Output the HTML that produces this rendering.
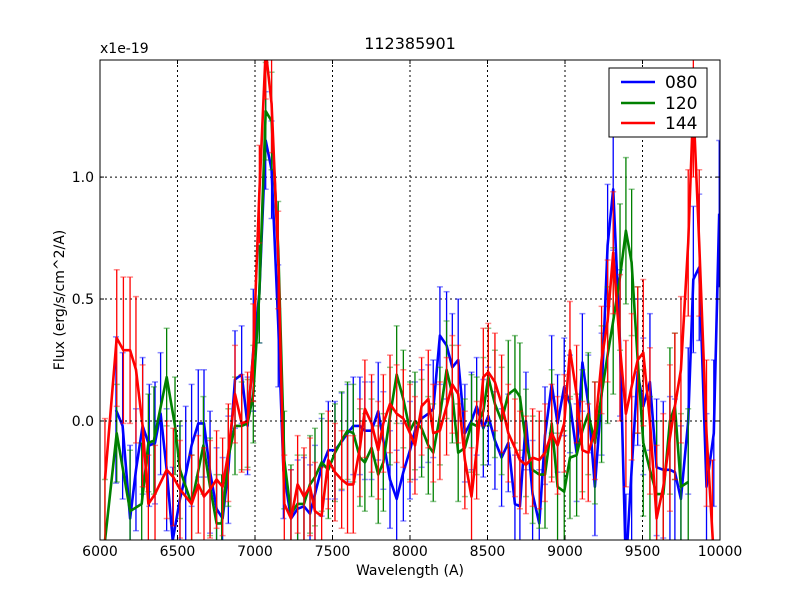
<!DOCTYPE html>
<html><head><meta charset="utf-8">
<style>
html,body{margin:0;padding:0;background:#fff;width:800px;height:600px;overflow:hidden;}
svg{display:block;}
svg text{font-family:"DejaVu Sans","Liberation Sans",sans-serif;font-size:14px;fill:#000;}
</style></head>
<body>
<svg id="chart" width="800" height="600" viewBox="0 0 800 600" xmlns="http://www.w3.org/2000/svg">
<rect x="0" y="0" width="800" height="600" fill="#fff"/>
<defs><clipPath id="clip"><rect x="100" y="60" width="620" height="480"/></clipPath></defs>
<g id="grid"></g>
<g id="series" clip-path="url(#clip)"></g>
<rect x="100" y="60" width="620" height="480" fill="none" stroke="#000" stroke-width="1"/>
<g id="ticks"></g>
<text x="410" y="49" text-anchor="middle" style="font-size:16px">112385901</text>
<text x="100" y="53">x1e-19</text>
<text x="410" y="575" text-anchor="middle">Wavelength (A)</text>
<text x="64" y="300" text-anchor="middle" transform="rotate(-90 64 300)">Flux (erg/s/cm^2/A)</text>
<g>
<rect x="609" y="68" width="98" height="69" fill="#fff" stroke="#000" stroke-width="1"/>
<line x1="621" y1="82" x2="655" y2="82" stroke="#0000ff" stroke-width="2.5"/>
<text x="665" y="88" style="font-size:17px">080</text>
<line x1="621" y1="103" x2="655" y2="103" stroke="#008000" stroke-width="2.5"/>
<text x="665" y="109" style="font-size:17px">120</text>
<line x1="621" y1="123" x2="655" y2="123" stroke="#ff0000" stroke-width="2.5"/>
<text x="665" y="129" style="font-size:17px">144</text>
</g>
</svg>
<script>
const xTicks=[6000,6500,7000,7500,8000,8500,9000,9500,10000];
const yTicks=[0.0,0.5,1.0];
const yTickLabels=["0.0","0.5","1.0"];
const blueWl=[6103,6146,6194,6232,6275,6318,6355,6391,6430,6469,6516,6553,6591,6634,6671,6710,6752,6791,6828,6871,6914,6952,6989,7028,7069,7107,7150,7183,7232,7275,7316,7355,7387,7430,7473,7516,7559,7597,7634,7677,7709,7752,7795,7828,7871,7914,7957,8000,8032,8075,8118,8150,8193,8236,8273,8311,8354,8397,8430,8473,8505,8548,8591,8634,8677,8709,8748,8791,8834,8871,8914,8952,8995,9032,9075,9112,9150,9193,9236,9275,9311,9355,9393,9430,9469,9505,9548,9591,9634,9677,9709,9748,9795,9828,9866,9913,9960,9995];
const blueVal=[0.045,-0.02,-0.40,-0.20,-0.02,-0.10,-0.09,0.03,-0.20,-0.49,-0.32,-0.22,-0.10,-0.01,-0.01,-0.21,-0.36,-0.40,-0.20,0.17,0.19,-0.02,0.29,0.52,1.15,1.03,0.39,-0.20,-0.40,-0.36,-0.35,-0.38,-0.30,-0.19,-0.12,-0.12,-0.085,-0.05,-0.02,-0.02,-0.04,-0.04,0.04,-0.08,-0.24,-0.32,-0.21,-0.12,-0.04,0.01,0.03,0.05,0.35,0.31,0.22,0.25,-0.05,0.0,0.06,-0.03,0.02,-0.08,-0.15,-0.09,-0.34,-0.35,0.0,-0.30,-0.42,-0.06,0.15,-0.01,0.14,0.07,-0.13,0.24,0.07,-0.27,0.11,0.72,0.95,0.32,-0.6,-0.20,0.20,0.06,0.16,-0.19,-0.20,-0.20,-0.21,-0.32,0.0,0.58,0.63,-0.27,-0.05,0.85];
const blueErr=[0.3,0.3,0.3,0.25,0.28,0.25,0.25,0.25,0.25,0.3,0.3,0.28,0.25,0.22,0.22,0.25,0.25,0.25,0.22,0.2,0.2,0.2,0.25,0.2,0.2,0.2,0.25,0.2,0.2,0.2,0.2,0.2,0.2,0.2,0.2,0.2,0.2,0.2,0.2,0.2,0.2,0.2,0.2,0.2,0.2,0.2,0.2,0.2,0.2,0.2,0.2,0.2,0.2,0.22,0.22,0.25,0.2,0.2,0.2,0.2,0.2,0.2,0.2,0.2,0.2,0.2,0.2,0.22,0.22,0.2,0.2,0.2,0.2,0.2,0.2,0.2,0.2,0.2,0.25,0.25,0.25,0.3,0.3,0.3,0.3,0.28,0.28,0.28,0.28,0.3,0.3,0.3,0.3,0.3,0.3,0.3,0.3,0.3];
const greenWl=[6032,6108,6194,6269,6312,6348,6430,6484,6516,6591,6667,6710,6752,6785,6828,6871,6914,6952,6989,7028,7069,7107,7150,7189,7232,7275,7316,7355,7387,7430,7473,7516,7559,7597,7634,7677,7709,7752,7795,7828,7871,7914,7957,8000,8032,8075,8118,8150,8193,8236,8273,8311,8354,8397,8430,8473,8505,8548,8591,8634,8677,8709,8748,8791,8834,8871,8914,8952,8995,9032,9075,9112,9150,9193,9236,9275,9311,9355,9393,9430,9469,9505,9548,9591,9634,9677,9709,9748,9795];
const greenVal=[-0.49,-0.05,-0.37,-0.34,-0.09,-0.08,0.18,-0.02,-0.20,-0.34,-0.10,-0.27,-0.42,-0.42,-0.15,-0.02,-0.02,-0.01,0.11,0.52,1.27,1.23,0.70,-0.16,-0.38,-0.34,-0.34,-0.26,-0.23,-0.17,-0.20,-0.13,-0.08,-0.04,-0.05,-0.15,-0.17,-0.11,-0.22,-0.17,0.02,0.19,0.09,-0.04,0.0,-0.03,-0.10,-0.13,0.02,0.21,0.11,-0.13,-0.11,-0.01,-0.02,0.04,0.18,0.07,0.0,0.11,0.13,0.10,-0.09,-0.20,-0.22,-0.22,-0.01,-0.27,-0.29,-0.15,-0.14,-0.04,0.03,-0.09,0.11,0.27,0.41,0.59,0.78,0.65,0.25,-0.09,-0.20,-0.30,-0.30,0.0,0.06,-0.27,-0.25];
const greenErr=[0.25,0.2,0.25,0.25,0.2,0.22,0.2,0.2,0.2,0.2,0.2,0.2,0.2,0.2,0.2,0.2,0.18,0.18,0.2,0.2,0.2,0.2,0.2,0.2,0.2,0.2,0.2,0.2,0.2,0.2,0.2,0.2,0.2,0.2,0.2,0.2,0.2,0.2,0.2,0.2,0.2,0.2,0.2,0.2,0.2,0.2,0.2,0.2,0.2,0.2,0.2,0.2,0.2,0.2,0.2,0.22,0.2,0.22,0.22,0.22,0.22,0.22,0.22,0.22,0.22,0.22,0.22,0.22,0.25,0.25,0.25,0.25,0.25,0.25,0.28,0.28,0.3,0.3,0.3,0.3,0.3,0.3,0.3,0.3,0.3,0.3,0.3,0.3,0.3];
const redWl=[6032,6108,6151,6194,6232,6275,6312,6355,6430,6473,6516,6591,6634,6671,6710,6752,6791,6828,6871,6914,6952,6989,7028,7069,7107,7150,7189,7232,7275,7316,7355,7387,7430,7473,7516,7559,7597,7634,7677,7709,7752,7795,7828,7871,7914,7957,8000,8032,8075,8118,8150,8193,8236,8273,8311,8354,8397,8430,8473,8505,8548,8591,8634,8677,8709,8748,8791,8834,8871,8914,8952,8995,9032,9075,9112,9150,9193,9236,9275,9311,9355,9393,9430,9469,9505,9548,9591,9634,9677,9709,9748,9795,9828,9866,9913,9951,9990];
const redVal=[-0.24,0.34,0.29,0.29,0.21,-0.02,-0.34,-0.30,-0.20,-0.23,-0.28,-0.34,-0.26,-0.31,-0.28,-0.24,-0.27,-0.13,0.11,-0.01,0.0,0.28,0.93,1.52,1.30,0.66,-0.34,-0.40,-0.26,-0.31,-0.27,-0.37,-0.39,-0.16,-0.21,-0.24,-0.26,-0.26,-0.11,0.05,-0.01,-0.12,-0.01,0.07,0.03,0.01,-0.05,-0.10,0.06,0.09,-0.05,-0.04,0.06,0.15,0.11,-0.16,-0.31,-0.12,0.18,0.20,0.16,0.07,-0.05,-0.11,-0.16,-0.18,-0.15,-0.16,-0.13,-0.05,-0.10,-0.01,0.29,0.11,-0.12,-0.13,-0.04,0.25,0.41,0.69,0.30,0.03,0.14,0.25,0.28,0.0,-0.40,-0.27,-0.07,0.06,0.21,0.73,1.30,0.73,-0.05,-0.46,-0.9];
const redErr=[0.25,0.28,0.3,0.3,0.3,0.25,0.2,0.2,0.2,0.2,0.2,0.2,0.2,0.2,0.2,0.2,0.2,0.2,0.2,0.2,0.2,0.2,0.2,0.2,0.2,0.2,0.2,0.2,0.2,0.2,0.2,0.2,0.2,0.2,0.2,0.2,0.2,0.2,0.2,0.2,0.2,0.2,0.2,0.2,0.2,0.2,0.2,0.2,0.2,0.2,0.2,0.2,0.2,0.2,0.2,0.2,0.2,0.2,0.2,0.2,0.2,0.2,0.2,0.2,0.2,0.2,0.2,0.2,0.2,0.2,0.2,0.2,0.2,0.2,0.2,0.2,0.2,0.22,0.25,0.25,0.3,0.3,0.3,0.3,0.3,0.3,0.3,0.3,0.3,0.3,0.3,0.3,0.3,0.3,0.3,0.3,0.3];

const X0=100,X1=720,Y0=540,Y1=60,XMIN=6000,XMAX=10000,YMIN=-0.488,YMAX=1.48;
function xs(v){return X0+(v-XMIN)/(XMAX-XMIN)*(X1-X0);}
function ys(v){return Y0-(v-YMIN)/(YMAX-YMIN)*(Y0-Y1);}
const NS="http://www.w3.org/2000/svg";
function mk(tag,attrs,parent){const e=document.createElementNS(NS,tag);for(const k in attrs)e.setAttribute(k,attrs[k]);parent.appendChild(e);return e;}
const grid=document.getElementById('grid'),ticks=document.getElementById('ticks'),ser=document.getElementById('series');
xTicks.forEach(function(t){
  const x=xs(t);
  if(t>XMIN&&t<XMAX){const g=mk('line',{x1:x,y1:Y1,x2:x,y2:Y0,stroke:'#000','stroke-dasharray':'2,3','stroke-width':1},grid);
  
  }
  const a=mk('line',{x1:x,y1:Y0,x2:x,y2:Y0-4,stroke:'#000'},ticks);
  
  
  const b=mk('line',{x1:x,y1:Y1,x2:x,y2:Y1+4,stroke:'#000'},ticks);
  
  
  const l=mk('text',{x:x,y:556,'text-anchor':'middle'},ticks);l.textContent=String(t);
  
  
});
yTicks.forEach(function(t,i){
  const y=ys(t);
  const g=mk('line',{x1:X0,y1:y,x2:X1,y2:y,stroke:'#000','stroke-dasharray':'2,3','stroke-width':1},grid);
  
  
  const a=mk('line',{x1:X0,y1:y,x2:X0+4,y2:y,stroke:'#000'},ticks);
  
  
  const b=mk('line',{x1:X1,y1:y,x2:X1-4,y2:y,stroke:'#000'},ticks);
  
  
  const l=mk('text',{x:X0-6,y:y+5,'text-anchor':'end'},ticks);l.textContent=yTickLabels[i];
  
  
});
function drawSeries(wl,val,err,color,name){
  const g=mk('g',{},ser);
  
  
  for(let i=0;i<wl.length;i++){
    const e=err[i]!==undefined?err[i]:0.2;
    const x=xs(wl[i]),yt=ys(val[i]+e),yb=ys(val[i]-e);
    const b=mk('line',{x1:x,y1:yt,x2:x,y2:yb,stroke:color,'stroke-width':1.3},g);
    
    
    const c1=mk('line',{x1:x-3,y1:yt,x2:x+3,y2:yt,stroke:color,'stroke-opacity':0.45,'stroke-width':1.5},g);
    
    
    const c2=mk('line',{x1:x-3,y1:yb,x2:x+3,y2:yb,stroke:color,'stroke-opacity':0.45,'stroke-width':1.5},g);
    
    
  }
  const pts=wl.map(function(w,i){return xs(w).toFixed(1)+','+ys(val[i]).toFixed(1);}).join(' ');
  const p=mk('polyline',{points:pts,fill:'none',stroke:color,'stroke-width':2.6,'stroke-linejoin':'round'},g);
  
  
}
drawSeries(blueWl,blueVal,blueErr,'#0000ff','080');
drawSeries(greenWl,greenVal,greenErr,'#008000','120');
drawSeries(redWl,redVal,redErr,'#ff0000','144');
const z=mk('line',{x1:X0,y1:ys(0),x2:X1,y2:ys(0),stroke:'#000','stroke-dasharray':'2,3','stroke-width':1},ser);


</script>
</body></html>
